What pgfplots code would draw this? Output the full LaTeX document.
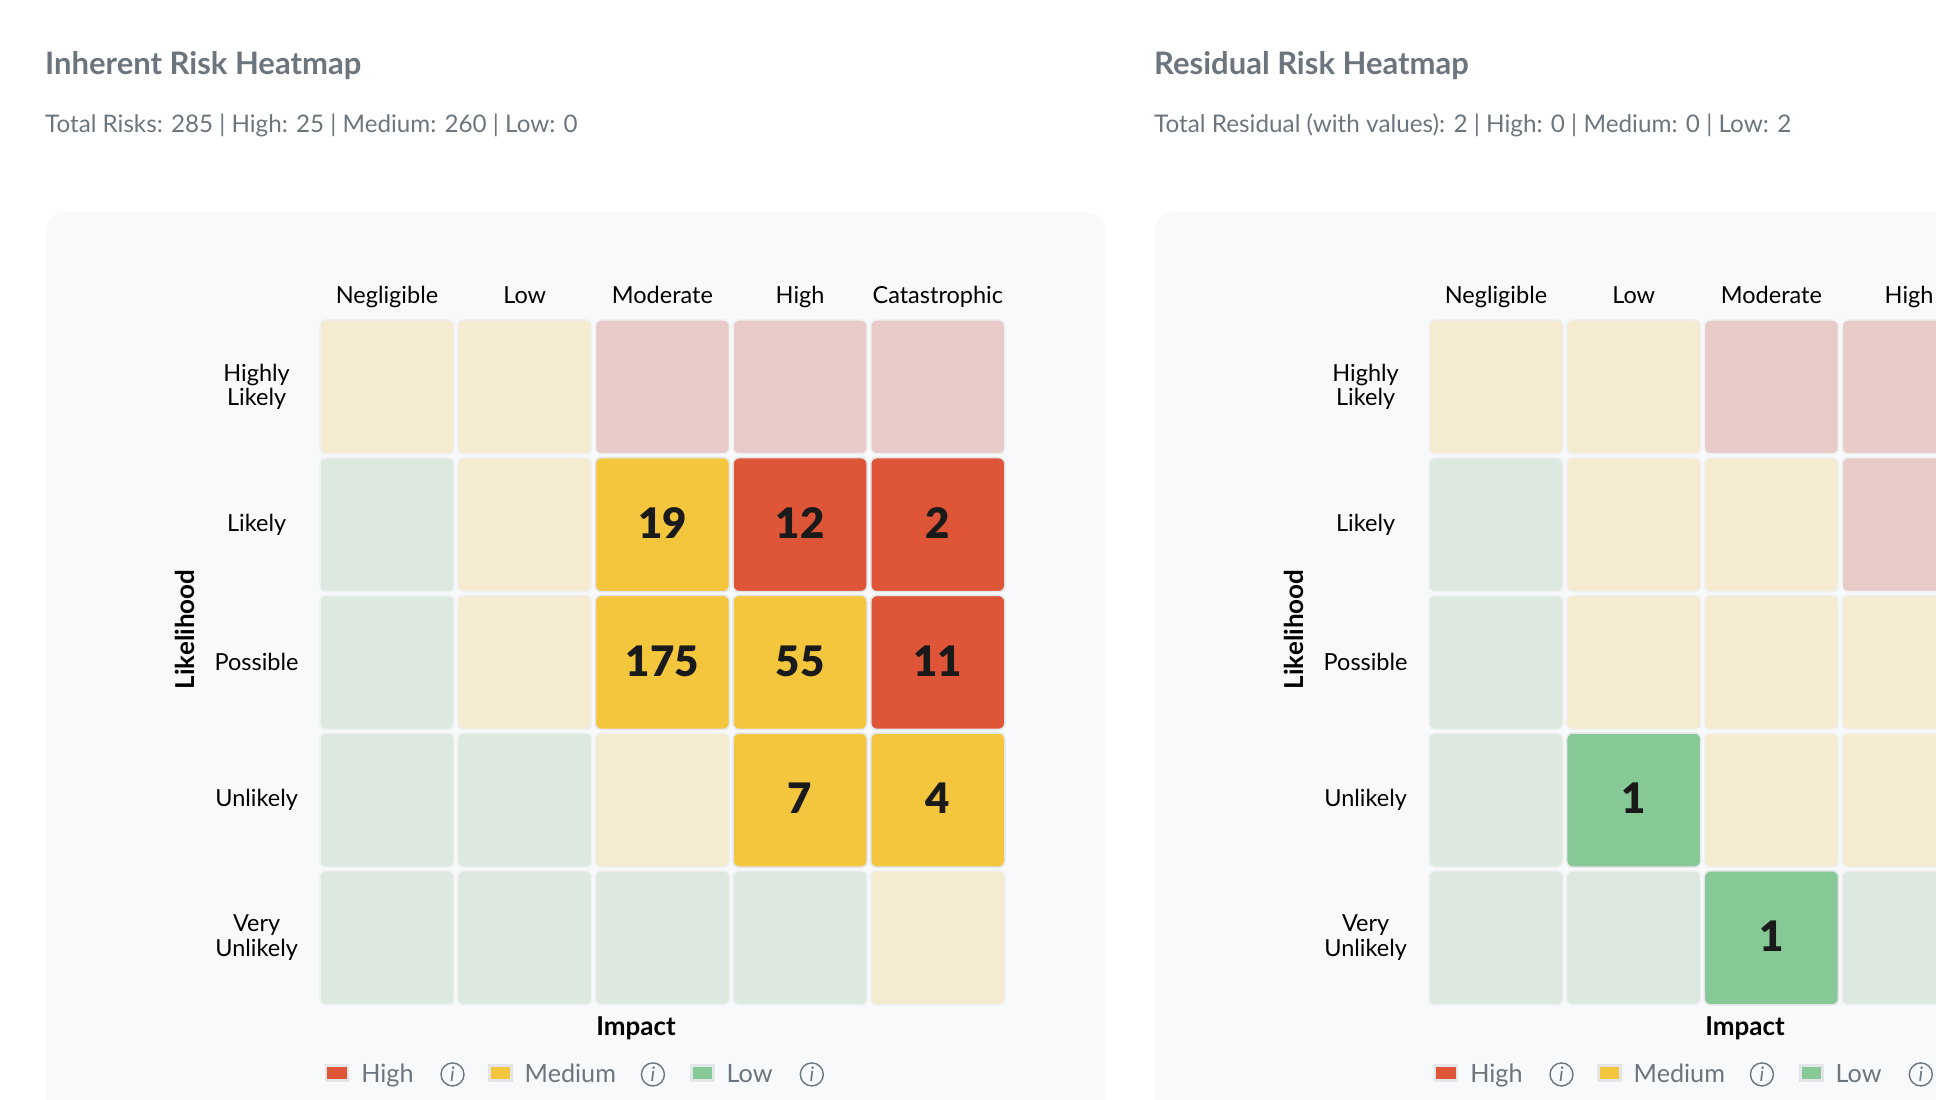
\documentclass[border=0pt]{standalone}
\usepackage{fontspec}
\setmainfont{Lato}
\newfontfamily\heavyfont{Lato Black}
\usepackage{pgfplots}
\pgfplotsset{compat=1.18}

\definecolor{panelbg}{HTML}{F8F9FB}
\definecolor{titlegrey}{HTML}{6C757D}
\definecolor{cellline}{HTML}{F0F1F3}
\definecolor{hotline}{HTML}{E3E5E9}
\definecolor{highfill}{HTML}{DF5537}
\definecolor{medfill}{HTML}{F4C63D}
\definecolor{lowfill}{HTML}{86C997}
\definecolor{highpale}{HTML}{E8CBC8}
\definecolor{medpale}{HTML}{F5EBD1}
\definecolor{lowpale}{HTML}{DDE9E0}
\definecolor{countcol}{HTML}{1A1A1A}

% one heatmap cell, 1pt is one pixel of the reference
% corners as curves, \pgfsetcornersarced has no effect inside a plot mark
\pgfdeclareplotmark{cell}{%
  \pgfpathmoveto{\pgfpoint{-61pt}{-67pt}}%
  \pgfpathlineto{\pgfpoint{61pt}{-67pt}}%
  \pgfpathcurveto{\pgfpoint{64.31pt}{-67pt}}{\pgfpoint{67pt}{-64.31pt}}{\pgfpoint{67pt}{-61pt}}%
  \pgfpathlineto{\pgfpoint{67pt}{61pt}}%
  \pgfpathcurveto{\pgfpoint{67pt}{64.31pt}}{\pgfpoint{64.31pt}{67pt}}{\pgfpoint{61pt}{67pt}}%
  \pgfpathlineto{\pgfpoint{-61pt}{67pt}}%
  \pgfpathcurveto{\pgfpoint{-64.31pt}{67pt}}{\pgfpoint{-67pt}{64.31pt}}{\pgfpoint{-67pt}{61pt}}%
  \pgfpathlineto{\pgfpoint{-67pt}{-61pt}}%
  \pgfpathcurveto{\pgfpoint{-67pt}{-64.31pt}}{\pgfpoint{-64.31pt}{-67pt}}{\pgfpoint{-61pt}{-67pt}}%
  \pgfpathclose
  \pgfusepathqfillstroke}

\newsavebox\infobox

\pgfplotsset{
  riskgrid/.style={
    anchor=south west,
    scale only axis, width=688.5pt, height=688.5pt,
    xmin=0.5, xmax=5.5, ymin=0.5, ymax=5.5,
    clip=false,
    axis line style={draw=none},
    tick style={draw=none},
    xtick={1,2,3,4,5},
    ytick={1,2,3,4,5},
    xticklabels={Negligible,Low,Moderate,High,Catastrophic},
    yticklabels={Very\\Unlikely,Unlikely,Possible,Likely,Highly\\Likely},
    xticklabel pos=upper,
    xticklabel style={font=\fontsize{23.5}{26}\selectfont, anchor=base, yshift=15pt},
    yticklabel style={font=\fontsize{23.5}{24.5}\selectfont, align=center, text width=100pt, anchor=east, xshift=-8pt},
    xlabel={Impact},
    ylabel={Likelihood},
    xlabel style={at={(axis description cs:0.4617,-0.0309)}, anchor=center, font=\fontsize{26}{28}\selectfont\bfseries},
    ylabel style={at={(axis description cs:-0.1934,0.548)}, anchor=center, font=\fontsize{26}{28}\selectfont\bfseries},
    legend style={at={(axis description cs:0.0094,-0.0965)}, anchor=west, draw=none, fill=none,
      font=\fontsize{25.2}{27}\selectfont, text=titlegrey, legend columns=3,
      inner sep=0pt, nodes={inner sep=2pt}},
  },
  pale/.style={only marks, mark=cell, mark options={draw=cellline, line width=1.5pt, fill=#1}},
  hot/.style={only marks, mark=cell, mark options={draw=hotline, line width=1.5pt, fill=#1},
    point meta=explicit symbolic, nodes near coords,
    every node near coord/.append style={anchor=center, text=countcol, yshift=1.5pt,
      font=\fontsize{42}{44}\selectfont\heavyfont}},
  swatch/.style={legend image code/.code={
    \draw[draw=hotline, line width=2.5pt, fill=#1] (0pt,-7.5pt) rectangle (22pt,7.5pt);}},
}

\newcommand{\legendtext}[3]{\hbox{}\hspace{10pt}\makebox[#2][l]{#1}\hspace{25pt}\usebox\infobox\hspace{#3}\hbox{}}
\newcommand{\legendrow}{%
  \addlegendimage{swatch=highfill}\addlegendentry{\legendtext{High}{54pt}{21.5pt}}
  \addlegendimage{swatch=medfill}\addlegendentry{\legendtext{Medium}{91pt}{23pt}}
  \addlegendimage{swatch=lowfill}\addlegendentry{\legendtext{Low}{48pt}{19pt}}
}

% background cells, same risk pattern in both grids
\pgfplotstableread{
x y
1 1
2 1
3 1
4 1
1 2
2 2
1 3
1 4
}\lowcells
\pgfplotstableread{
x y
5 1
3 2
4 2
5 2
2 3
3 3
4 3
2 4
3 4
1 5
2 5
}\medcells
\pgfplotstableread{
x y
5 3
4 4
5 4
3 5
4 5
5 5
}\highcells

\begin{document}
\sbox\infobox{\begin{tikzpicture}[baseline=-8pt]
  \draw[draw=titlegrey, line width=1.4pt] (0pt,0pt) circle (11.5pt);
  \node[text=titlegrey, inner sep=0pt] at (0pt,0pt) {\fontsize{20}{22}\selectfont\itshape i};
\end{tikzpicture}}%
\begin{tikzpicture}
\useasboundingbox (0pt,0pt) rectangle (1936pt,1100pt);
\clip (0pt,0pt) rectangle (1936pt,1100pt);

\fill[panelbg, rounded corners=20pt] (45.5pt,-40pt) rectangle (1106pt,888pt);
\fill[panelbg, rounded corners=20pt] (1154.5pt,-40pt) rectangle (2215pt,888pt);

\node[anchor=base west, inner sep=0pt, text=titlegrey] at (45pt,1025.5pt)
  {\fontsize{31}{34}\selectfont\bfseries Inherent Risk Heatmap};
\node[anchor=base west, inner sep=0pt, text=titlegrey] at (45pt,967.5pt)
  {\fontsize{24.2}{26}\selectfont Total Risks: 285 | High: 25 | Medium: 260 | Low: 0};
\node[anchor=base west, inner sep=0pt, text=titlegrey] at (1154pt,1025.5pt)
  {\fontsize{31}{34}\selectfont\bfseries Residual Risk Heatmap};
\node[anchor=base west, inner sep=0pt, text=titlegrey] at (1154pt,967.5pt)
  {\fontsize{24.3}{26}\selectfont Total Residual (with values): 2 | High: 0 | Medium: 0 | Low: 2};

\begin{axis}[riskgrid, at={(318.15pt,93.35pt)}]
  \legendrow
  \addplot[pale=lowpale] table {\lowcells};
  \addplot[pale=medpale] table {\medcells};
  \addplot[pale=highpale] table {\highcells};
  \addplot[hot=medfill] table[x=x, y=y, meta=n] {
    x y n
    3 4 19
    3 3 175
    4 3 55
    4 2 7
    5 2 4
  };
  \addplot[hot=highfill] table[x=x, y=y, meta=n] {
    x y n
    4 4 12
    5 4 2
    5 3 11
  };
\end{axis}

\begin{axis}[riskgrid, at={(1427.15pt,93.35pt)}]
  \legendrow
  \addplot[pale=lowpale] table {\lowcells};
  \addplot[pale=medpale] table {\medcells};
  \addplot[pale=highpale] table {\highcells};
  \addplot[hot=lowfill] table[x=x, y=y, meta=n] {
    x y n
    2 2 1
    3 1 1
  };
\end{axis}
\end{tikzpicture}
\end{document}
